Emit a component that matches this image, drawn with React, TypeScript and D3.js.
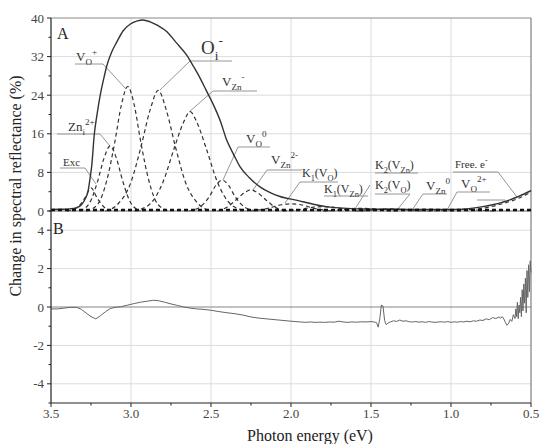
import React from 'react';
import * as d3 from 'd3';

type P = [number, number];

const xTicks = [3.5, 3.0, 2.5, 2.0, 1.5, 1.0, 0.5];
const xMinor = [3.25, 2.75, 2.25, 1.75, 1.25, 0.75];
const topTicks = [0, 8, 16, 24, 32, 40];
const topMinor = [4, 12, 20, 28, 36];
const botTicks = [-4, -2, 0, 2, 4];
const botMinor = [-5, -3, -1, 1, 3, 5];

const envelope: P[] = [[3.50,0.3],[3.44,0.35],[3.38,0.45],[3.34,0.7],[3.31,1.3],[3.285,2.6],[3.269,4],[3.255,7],[3.246,9.2],[3.229,16],[3.21,20.5],[3.194,23.7],[3.17,27.5],[3.152,30],[3.12,33],[3.089,35],[3.05,37.3],[3.006,38.7],[2.96,39.4],[2.925,39.6],[2.88,39.2],[2.83,38.4],[2.777,37.2],[2.72,35],[2.652,32.3],[2.61,30],[2.569,27.6],[2.53,25],[2.4875,22.2],[2.44,18.5],[2.402,14.7],[2.36,11.8],[2.319,9.2],[2.26,6.9],[2.194,5.0],[2.13,3.8],[2.069,3.0],[1.96,2.2],[1.86,1.4],[1.756,0.8],[1.65,0.55],[1.55,0.4],[1.4,0.35],[1.2,0.3],[1.0,0.3],[0.9,0.45],[0.8,0.9],[0.74,1.3],[0.68,1.8],[0.631,2.3],[0.58,3.0],[0.5,4.2]];

const compExc: P[] = [[3.40,0],[3.34,0.6],[3.29,2.6],[3.25,4.8],[3.21,2.6],[3.16,0.6],[3.10,0]];
const compZnI: P[] = [[3.32,0],[3.26,1.6],[3.21,6],[3.17,10.8],[3.13,13.5],[3.09,10.8],[3.05,6],[3.00,1.6],[2.94,0]];
const compVOplus: P[] = [[3.28,0],[3.21,1.3],[3.15,6.5],[3.10,14.5],[3.06,22],[3.02,25.8],[2.98,22],[2.94,14.5],[2.89,6.5],[2.83,1.3],[2.76,0]];
const compOi: P[] = [[3.16,0],[3.08,1.5],[3.00,6],[2.94,13],[2.88,21],[2.83,25],[2.78,21],[2.72,13],[2.66,6],[2.58,1.5],[2.50,0]];
const compVZnMinus: P[] = [[2.98,0],[2.88,1.5],[2.80,6],[2.73,13],[2.67,18.5],[2.63,20.6],[2.59,18.5],[2.53,13],[2.46,6],[2.38,1.5],[2.28,0]];
const compVO0: P[] = [[2.64,0],[2.57,0.8],[2.51,3],[2.47,5.3],[2.43,6.4],[2.39,5.3],[2.35,3],[2.29,0.8],[2.22,0]];
const compVZn2: P[] = [[2.46,0],[2.40,0.8],[2.34,2.4],[2.29,3.8],[2.25,4.4],[2.21,3.8],[2.16,2.4],[2.10,0.8],[2.03,0]];
const compK1VO: P[] = [[2.25,0],[2.15,0.5],[2.06,1.3],[2.00,1.5],[1.94,1.3],[1.85,0.5],[1.75,0]];
const compK1VZn: P[] = [[2.05,0],[1.95,0.3],[1.86,0.8],[1.80,0.9],[1.74,0.8],[1.65,0.3],[1.55,0]];
const compK2VZn: P[] = [[1.80,0],[1.70,0.2],[1.62,0.5],[1.56,0.55],[1.50,0.5],[1.42,0.2],[1.32,0]];
const compK2VO: P[] = [[1.60,0],[1.50,0.15],[1.43,0.4],[1.38,0.45],[1.33,0.4],[1.26,0.15],[1.16,0]];
const compVZn0: P[] = [[1.40,0],[1.30,0.12],[1.22,0.3],[1.16,0.35],[1.10,0.3],[1.02,0.12],[0.92,0]];
const compVO2: P[] = [[1.15,0],[1.05,0.12],[0.98,0.3],[0.93,0.35],[0.88,0.3],[0.81,0.12],[0.72,0]];
const compFreeE: P[] = [[1.05,0],[0.95,0.1],[0.85,0.35],[0.75,0.9],[0.68,1.5],[0.62,2.1],[0.56,2.9],[0.50,3.9]];

const components = [compExc, compZnI, compVOplus, compOi, compVZnMinus, compVO0, compVZn2, compK1VO, compK1VZn, compK2VZn, compK2VO, compVZn0, compVO2, compFreeE];

const diffB: P[] = [[3.50,-0.10],[3.46,-0.10],[3.42,-0.06],[3.38,-0.02],[3.34,-0.02],[3.31,-0.12],[3.28,-0.32],[3.25,-0.50],[3.22,-0.62],[3.19,-0.45],[3.16,-0.25],[3.13,-0.08],[3.10,-0.02],[3.06,0.02],[3.02,0.10],[2.98,0.18],[2.94,0.25],[2.90,0.30],[2.86,0.35],[2.83,0.33],[2.79,0.25],[2.75,0.16],[2.71,0.08],[2.67,0.00],[2.63,-0.06],[2.59,-0.10],[2.55,-0.12],[2.50,-0.17],[2.45,-0.24],[2.40,-0.30],[2.35,-0.35],[2.30,-0.42],[2.25,-0.52],[2.20,-0.58],[2.15,-0.62],[2.10,-0.66],[2.05,-0.70],[2.00,-0.74],[1.97,-0.76],[1.94,-0.78],[1.91,-0.80],[1.88,-0.78],[1.85,-0.80],[1.82,-0.79],[1.79,-0.80],[1.76,-0.78],[1.73,-0.79],[1.70,-0.74],[1.68,-0.77],[1.65,-0.80],[1.62,-0.78],[1.59,-0.79],[1.56,-0.77],[1.53,-0.78],[1.50,-0.76],[1.48,-0.78],[1.465,-0.82],[1.455,-1.05],[1.445,-0.6],[1.435,0.10],[1.425,0.05],[1.415,-0.7],[1.405,-0.92],[1.395,-0.85],[1.38,-0.78],[1.36,-0.72],[1.34,-0.75],[1.32,-0.68],[1.30,-0.74],[1.28,-0.72],[1.26,-0.77],[1.24,-0.78],[1.22,-0.76],[1.20,-0.79],[1.18,-0.77],[1.16,-0.80],[1.14,-0.76],[1.12,-0.78],[1.10,-0.80],[1.08,-0.78],[1.06,-0.77],[1.04,-0.79],[1.02,-0.76],[1.00,-0.80],[0.98,-0.77],[0.96,-0.79],[0.94,-0.76],[0.92,-0.78],[0.90,-0.74],[0.88,-0.77],[0.86,-0.72],[0.84,-0.74],[0.82,-0.68],[0.80,-0.70],[0.78,-0.62],[0.76,-0.66],[0.74,-0.55],[0.72,-0.60],[0.70,-0.52],[0.69,-0.58],[0.68,-0.50],[0.67,-0.62],[0.66,-0.80],[0.65,-0.95],[0.64,-0.85],[0.63,-0.65],[0.62,-0.75],[0.61,-0.40],[0.60,-0.60],[0.595,-0.1],[0.59,-0.5],[0.585,0.25],[0.58,-0.6],[0.575,0.1],[0.57,-0.3],[0.565,0.5],[0.56,-0.5],[0.555,0.9],[0.55,-0.2],[0.545,1.2],[0.54,0.2],[0.535,1.5],[0.53,-0.3],[0.525,1.9],[0.52,0.5],[0.515,2.2],[0.51,0.8],[0.505,2.4],[0.50,1.8]];

type Part = { t: string; k?: 'sub' | 'sup' };

const FONT = 'Liberation Serif';

function Label({ x, y, parts, size = 12 }: { x: number; y: number; parts: Part[]; size?: number }) {
  let cur = 0;
  const small = size * 0.7;
  return (
    <text x={x} y={y} fontFamily={FONT} fontSize={size} fill="#333">
      {parts.map((p, i) => {
        const target = p.k === 'sub' ? size * 0.3 : p.k === 'sup' ? -size * 0.45 : 0;
        const dy = target - cur;
        cur = target;
        return (
          <tspan key={i} dy={dy} fontSize={p.k ? small : size}>
            {p.t}
          </tspan>
        );
      })}
    </text>
  );
}

export default function App() {
  const L = 51, R = 531, T = 18, MID = 211, B = 403;
  const x = d3.scaleLinear().domain([3.5, 0.5]).range([L, R]);
  const yA = d3.scaleLinear().domain([0, 40]).range([MID, T]);
  const yB = d3.scaleLinear().domain([-5, 5]).range([B, MID]);
  const lineA = d3.line<P>().x(d => x(d[0])).y(d => yA(d[1])).curve(d3.curveMonotoneX);
  const lineB = d3.line<P>().x(d => x(d[0])).y(d => yB(d[1]));
  const fmt = d3.format('.1f');
  const grid = '#dcdcdc';
  const lead = '#8a8a8a';

  const leaders: [number, number, number, number][] = [
    [75, 64, 103, 64], [103, 64, 126, 89],
    [190, 61, 232, 61], [190, 61, 160, 90],
    [213, 91, 257, 91], [213, 91, 189, 112],
    [57, 134, 100, 134], [100, 134, 110, 146],
    [60, 168, 85, 168], [85, 168, 96, 184],
    [238, 147, 270, 147], [238, 147, 223, 180],
    [267, 170, 302, 170], [267, 170, 253, 190],
    [300, 182, 338, 182], [300, 182, 285, 203],
    [370, 185, 355, 209], [324, 196, 368, 196],
    [375, 173, 418, 173],
    [375, 194, 410, 194], [410, 194, 397, 210],
    [423, 194, 447, 194], [423, 194, 412, 210],
    [457, 192, 490, 192], [457, 192, 447, 210],
    [453, 172, 498, 172], [498, 172, 517, 197],
    [477, 200, 505, 200],
  ];

  return (
    <svg width={540} height={444} style={{ position: 'absolute', left: 0, top: 0, background: '#fff' }}>
      <rect x={0} y={0} width={540} height={444} fill="#fff" />
      {xTicks.slice(1, -1).map(t => (
        <line key={'gx' + t} x1={x(t)} x2={x(t)} y1={T} y2={B} stroke={grid} strokeWidth={1} />
      ))}
      {topTicks.slice(1, -1).map(t => (
        <line key={'gy' + t} x1={L} x2={R} y1={yA(t)} y2={yA(t)} stroke={grid} strokeWidth={1} />
      ))}
      {botTicks.filter(t => t !== 0).map(t => (
        <line key={'gb' + t} x1={L} x2={R} y1={yB(t)} y2={yB(t)} stroke={grid} strokeWidth={1} />
      ))}
      <line x1={L} x2={R} y1={yB(0)} y2={yB(0)} stroke="#777" strokeWidth={0.9} />
      <line x1={L} x2={R} y1={T} y2={T} stroke="#888" strokeWidth={1} />
      <line x1={R} x2={R} y1={T} y2={B} stroke="#666" strokeWidth={1} />

      {leaders.map((l, i) => (
        <line key={'ld' + i} x1={l[0]} y1={l[1]} x2={l[2]} y2={l[3]} stroke={lead} strokeWidth={0.9} />
      ))}

      {components.map((c, i) => (
        <path key={'c' + i} d={lineA(c) || ''} fill="none" stroke="#333" strokeWidth={1.2} strokeDasharray="4 3" />
      ))}
      <path d={lineA(envelope) || ''} fill="none" stroke="#333" strokeWidth={1.4} />

      <line x1={L} x2={R} y1={MID} y2={MID} stroke="#666" strokeWidth={1} />
      <line x1={L} x2={R} y1={MID - 1} y2={MID - 1} stroke="#111" strokeWidth={2.5} strokeDasharray="4 3" />

      <path d={lineB(diffB) || ''} fill="none" stroke="#666" strokeWidth={1} />

      <line x1={L} x2={L} y1={T} y2={B} stroke="#222" strokeWidth={1.2} />
      <line x1={L} x2={R} y1={B} y2={B} stroke="#222" strokeWidth={1.2} />
      {xTicks.map(t => (
        <g key={'xt' + t}>
          <line x1={x(t)} x2={x(t)} y1={B} y2={B + 4} stroke="#222" />
          <text x={x(t)} y={B + 15} textAnchor="middle" fontFamily={FONT} fontSize={13} fill="#444">{fmt(t)}</text>
        </g>
      ))}
      {xMinor.map(t => (
        <line key={'xm' + t} x1={x(t)} x2={x(t)} y1={B} y2={B + 2.5} stroke="#222" />
      ))}
      {topTicks.map(t => (
        <g key={'ya' + t}>
          <line x1={L - 4} x2={L} y1={yA(t)} y2={yA(t)} stroke="#222" />
          <text x={L - 7} y={yA(t) + 4.5} textAnchor="end" fontFamily={FONT} fontSize={13} fill="#444">{t}</text>
        </g>
      ))}
      {topMinor.map(t => (
        <line key={'yam' + t} x1={L - 2.5} x2={L} y1={yA(t)} y2={yA(t)} stroke="#222" />
      ))}
      {botTicks.map(t => (
        <g key={'yb' + t}>
          <line x1={L - 4} x2={L} y1={yB(t)} y2={yB(t)} stroke="#222" />
          <text x={L - 7} y={yB(t) + 4.5} textAnchor="end" fontFamily={FONT} fontSize={13} fill="#444">{t}</text>
        </g>
      ))}
      {botMinor.map(t => (
        <line key={'ybm' + t} x1={L - 2.5} x2={L} y1={yB(t)} y2={yB(t)} stroke="#222" />
      ))}

      <text x={310} y={441} textAnchor="middle" fontFamily={FONT} fontSize={16} fill="#222">Photon energy (eV)</text>
      <text transform="translate(21,186) rotate(-90)" textAnchor="middle" fontFamily={FONT} fontSize={16} fill="#222">Change in spectral reflectance (%)</text>

      <text x={57} y={39} fontFamily={FONT} fontSize={16} fill="#222">A</text>
      <text x={53} y={234} fontFamily={FONT} fontSize={16} fill="#222">B</text>

      <Label x={76} y={61} size={13} parts={[{ t: 'V' }, { t: 'O', k: 'sub' }, { t: '+', k: 'sup' }]} />
      <Label x={201} y={54} size={19} parts={[{ t: 'O' }, { t: 'i', k: 'sub' }, { t: '-', k: 'sup' }]} />
      <Label x={222} y={86} size={13} parts={[{ t: 'V' }, { t: 'Zn', k: 'sub' }, { t: '-', k: 'sup' }]} />
      <Label x={68} y={131} size={13} parts={[{ t: 'Zn' }, { t: 'i', k: 'sub' }, { t: '2+', k: 'sup' }]} />
      <Label x={63} y={166} size={11} parts={[{ t: 'Exc' }]} />
      <Label x={246} y={143} size={13} parts={[{ t: 'V' }, { t: 'O', k: 'sub' }, { t: '0', k: 'sup' }]} />
      <Label x={271} y={164} size={13} parts={[{ t: 'V' }, { t: 'Zn', k: 'sub' }, { t: '2-', k: 'sup' }]} />
      <Label x={302} y={177} parts={[{ t: 'K' }, { t: '1', k: 'sub' }, { t: '(V' }, { t: 'O', k: 'sub' }, { t: ')' }]} />
      <Label x={324} y={193} parts={[{ t: 'K' }, { t: '1', k: 'sub' }, { t: '(V' }, { t: 'Zn', k: 'sub' }, { t: ')' }]} />
      <Label x={375} y={169} parts={[{ t: 'K' }, { t: '2', k: 'sub' }, { t: '(V' }, { t: 'Zn', k: 'sub' }, { t: ')' }]} />
      <Label x={375} y={189} parts={[{ t: 'K' }, { t: '2', k: 'sub' }, { t: '(V' }, { t: 'O', k: 'sub' }, { t: ')' }]} />
      <Label x={426} y={190} size={13} parts={[{ t: 'V' }, { t: 'Zn', k: 'sub' }, { t: '0', k: 'sup' }]} />
      <Label x={461} y={188} size={13} parts={[{ t: 'V' }, { t: 'O', k: 'sub' }, { t: '2+', k: 'sup' }]} />
      <Label x={455} y={168} size={11} parts={[{ t: 'Free. e' }, { t: '-', k: 'sup' }]} />
    </svg>
  );
}
